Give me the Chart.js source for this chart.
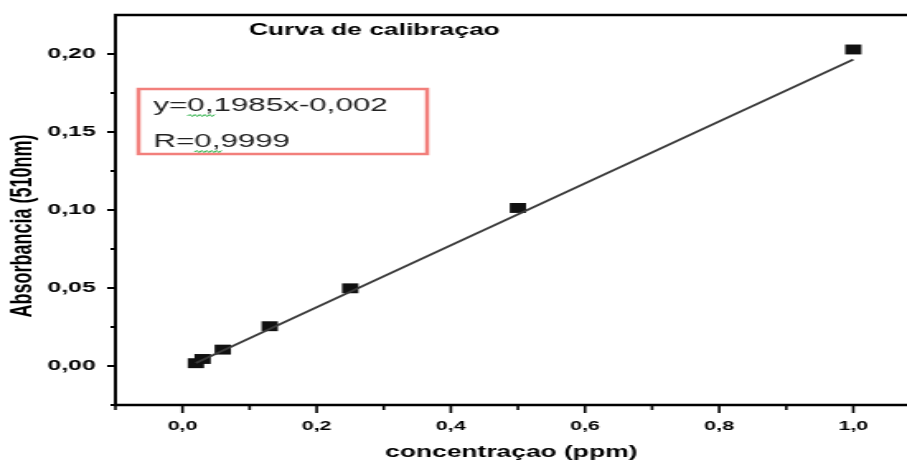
<!DOCTYPE html>
<html>
<head>
<meta charset="utf-8">
<script src="https://cdn.jsdelivr.net/npm/chart.js@4.4.0/dist/chart.umd.min.js"></script>
<style>
  html, body { margin: 0; padding: 0; background: #fff; overflow: hidden; }
  #wrap { width: 550px; height: 462px; transform: scaleX(1.649); transform-origin: 0 0; }
</style>
</head>
<body>
<div id="wrap"><canvas id="chart"></canvas></div>
<script>
const concentration = [0.02, 0.03, 0.06, 0.13, 0.25, 0.50, 1.00];
const absorbance = [0.0018, 0.0045, 0.0105, 0.0255, 0.0498, 0.1013, 0.2029];
const fitSlope = 0.1985;
const fitIntercept = -0.002;
const xTicks = [0, 0.2, 0.4, 0.6, 0.8, 1.0];
const xTickLabels = ['0,0', '0,2', '0,4', '0,6', '0,8', '1,0'];
const xMinor = [-0.1, 0.1, 0.3, 0.5, 0.7, 0.9];
const yTicks = [0, 0.05, 0.10, 0.15, 0.20];
const yTickLabels = ['0,00', '0,05', '0,10', '0,15', '0,20'];
const yMinor = [-0.025, 0.025, 0.075, 0.125, 0.175];

const FONT = "'Liberation Sans', Arial, sans-serif";

const points = concentration.map((c, i) => ({x: c, y: absorbance[i]}));
// regression line between first and last concentration
const fitEnds = [concentration[0], concentration[concentration.length - 1]];
const fitLine = fitEnds.map(c => ({x: c, y: fitSlope * c + fitIntercept}));

function seg(ctx, x1, y1, x2, y2) {
  ctx.beginPath(); ctx.moveTo(x1, y1); ctx.lineTo(x2, y2); ctx.stroke();
}

function squiggle(ctx, x0, x1, yy) {
  ctx.beginPath();
  let up = true;
  ctx.moveTo(x0, yy);
  for (let px = x0 + 1.5; px <= x1; px += 1.5) {
    ctx.lineTo(px, up ? yy - 1.5 : yy + 0.5);
    up = !up;
  }
  ctx.stroke();
}

const decor = {
  id: 'decor',
  afterDraw(chart) {
    const {ctx, chartArea: a, scales: {x, y}} = chart;
    const right = chart.width;
    ctx.save();
    ctx.strokeStyle = '#000';

    // frame: left axis, bottom axis, top border (open on the right)
    ctx.lineWidth = 2;
    seg(ctx, a.left, a.top - 1, a.left, a.bottom);
    ctx.lineWidth = 2.5;
    seg(ctx, a.left - 1, a.bottom, right, a.bottom);
    seg(ctx, a.left - 1, a.top, right, a.top);

    // y ticks, outward
    ctx.lineWidth = 2;
    yTicks.forEach(v => { const p = y.getPixelForValue(v); seg(ctx, a.left - 5, p, a.left, p); });
    yMinor.forEach(v => { const p = y.getPixelForValue(v); seg(ctx, a.left - 3, p, a.left, p); });

    // x ticks, outward
    ctx.lineWidth = 1.6;
    xTicks.forEach(v => { const p = x.getPixelForValue(v); seg(ctx, p, a.bottom, p, a.bottom + 8); });
    xMinor.forEach(v => { const p = x.getPixelForValue(v); seg(ctx, p, a.bottom, p, a.bottom + 5); });

    // title
    ctx.fillStyle = '#000';
    ctx.font = 'bold 16px ' + FONT;
    ctx.textBaseline = 'middle';
    ctx.textAlign = 'left';
    ctx.fillText('Curva de calibraçao', 151, 31);

    // y axis title
    ctx.save();
    ctx.translate(14, 226);
    ctx.rotate(-Math.PI / 2);
    ctx.textAlign = 'center';
    ctx.font = 'bold 18px ' + FONT;
    ctx.fillText('Absorbancia (510nm)', 0, 0);
    ctx.restore();

    // equation box
    ctx.fillStyle = '#fff';
    ctx.fillRect(84, 89, 175, 65);
    ctx.strokeStyle = '#f27f7b';
    ctx.lineWidth = 2.5;
    ctx.strokeRect(84, 89, 175, 65);

    ctx.fillStyle = '#222';
    ctx.font = '19px ' + FONT;
    ctx.textBaseline = 'alphabetic';
    const line1 = 'y=0,1985x-0,002';
    const line2 = 'R=0,9999';
    ctx.fillText(line1, 93, 111);
    ctx.fillText(line2, 93, 147);

    ctx.strokeStyle = '#2fb34a';
    ctx.lineWidth = 1;
    const s1 = 93 + ctx.measureText('y=').width;
    squiggle(ctx, s1, s1 + ctx.measureText('0,').width + 2, 116);
    const s2 = 93 + ctx.measureText('R=').width;
    squiggle(ctx, s2, s2 + ctx.measureText('0,').width + 2, 152);

    ctx.restore();
  }
};

const ctx = document.getElementById('chart').getContext('2d');

const myChart = new Chart(ctx, {
  type: 'scatter',
  data: {
    datasets: [
      {
        label: 'fit',
        data: fitLine,
        showLine: true,
        borderColor: '#3a3a3a',
        borderWidth: 1.8,
        pointRadius: 0,
        order: 0
      },
      {
        label: 'Absorbancia',
        data: points,
        pointStyle: 'rect',
        pointRadius: 7,
        backgroundColor: '#111',
        borderColor: '#111',
        borderWidth: 0,
        order: 1
      }
    ]
  },
  options: {
    responsive: true,
    maintainAspectRatio: false,
    animation: false,
    layout: { autoPadding: false, padding: { top: 15, right: 0, left: 0, bottom: 0 } },
    plugins: {
      legend: { display: false },
      tooltip: { enabled: false }
    },
    scales: {
      x: {
        type: 'linear',
        min: -0.1,
        max: 1.08,
        afterBuildTicks: (scale) => { scale.ticks = xTicks.map(v => ({value: v})); },
        afterFit: (scale) => {
          scale.height = 57;
          scale.paddingLeft = 0;
          scale.paddingRight = 0;
        },
        grid: { display: false, drawTicks: false },
        border: { display: false },
        ticks: {
          padding: 14,
          color: '#000',
          font: { family: FONT, size: 13, weight: 'bold' },
          callback: (v) => xTickLabels[xTicks.indexOf(v)] ?? ''
        },
        title: {
          display: true,
          text: 'concentraçao (ppm)',
          color: '#000',
          font: { family: FONT, size: 16, weight: 'bold' },
          padding: { top: 0, bottom: 0 }
        }
      },
      y: {
        type: 'linear',
        min: -0.025,
        max: 0.225,
        afterBuildTicks: (scale) => { scale.ticks = yTicks.map(v => ({value: v})); },
        afterFit: (scale) => {
          scale.width = 70;
          scale.paddingTop = 0;
          scale.paddingBottom = 0;
        },
        grid: { display: false, drawTicks: false },
        border: { display: false },
        ticks: {
          padding: 12,
          color: '#000',
          font: { family: FONT, size: 15, weight: 'bold' },
          callback: (v) => yTickLabels[yTicks.indexOf(v)] ?? ''
        }
      }
    }
  },
  plugins: [decor]
});
</script>
</body>
</html>
